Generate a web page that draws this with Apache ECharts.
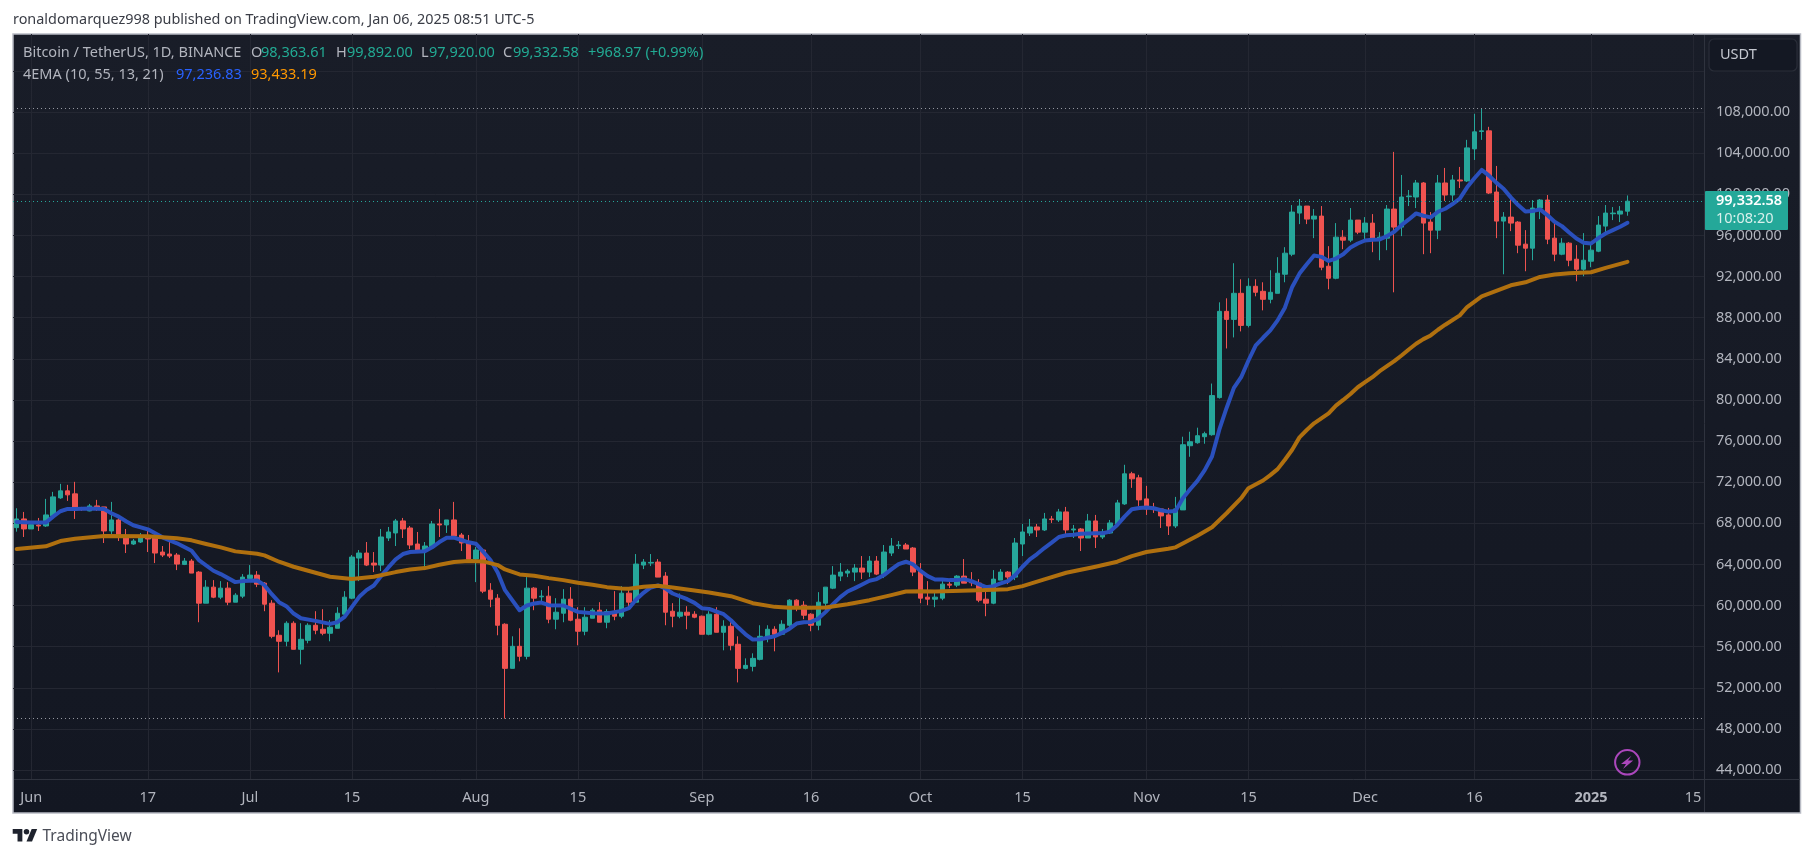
<!DOCTYPE html>
<html><head><meta charset="utf-8">
<style>html,body{margin:0;padding:0;background:#fff}#c{width:1814px;height:858px}</style>
<script src="https://cdn.jsdelivr.net/npm/echarts@6/dist/echarts.min.js"></script>
</head><body><div id="c"></div>
<script>
// One category per calendar day, first candle 2024-05-30, axis runs on to 2025-01-16
const firstDay = Date.UTC(2024, 4, 30);
const dayCount = 232;
const categories = [];
for (let i = 0; i < dayCount; i++) categories.push(new Date(firstDay + i * 86400000).toISOString().slice(0, 10));

const tickDates = ['2024-06-01','2024-06-17','2024-07-01','2024-07-15','2024-08-01','2024-08-15','2024-09-01','2024-09-16','2024-10-01','2024-10-15','2024-11-01','2024-11-15','2024-12-01','2024-12-16','2025-01-01','2025-01-15'];
const tickLabels = ['Jun','17','Jul','15','Aug','15','Sep','16','Oct','15','Nov','15','Dec','16','2025','15'];

const opens = [67578,68423,67448,67838,67740,68716,70472,71155,70862,69399,
69204,69691,69594,67253,68326,66765,65984,66180,66667,66570,
65204,65009,64911,64000,64326,63253,60228,61789,60814,61692,
60326,60911,62635,62960,62180,60228,57106,56521,58277,55741,
56618,58082,57692,57302,57789,59156,60716,64618,65106,64131,
63936,66570,67058,68228,67545,65984,65301,65692,67936,67838,
68326,66862,66179,64521,65399,61497,60716,58179,53887,56033,
55058,61692,60847,60911,58667,59253,60618,58667,57497,58765,
59545,58375,59415,58960,61204,60326,63936,64131,64229,62862,
59447,58960,59350,59155,58960,57204,59155,57399,57985,56229,
53887,54082,54765,56911,57692,57204,58082,60521,60033,59155,
58082,60228,61692,62862,63155,63252,63643,63252,64326,63057,
65106,65822,65887,65594,63350,60814,60618,60715,62082,61984,
62862,62277,62179,60618,60228,62472,63252,62764,65984,67057,
67642,67350,68423,68325,69106,67350,67447,66569,68228,66667,
67057,67935,69886,72813,72423,70374,69496,69399,68813,67740,
69301,75545,75838,76423,76618,80228,88618,87837,90374,87252,
91057,90569,89789,90374,92228,94179,98179,98862,97593,97886,
93008,91837,95837,95545,97496,96325,97203,95740,95740,98569,
96813,99772,99740,101106,97301,96520,101106,99935,101398,101301,
104423,106114,106179,100227,97398,97788,97301,95155,94764,98666,
99447,95740,94179,95252,93691,92715,93496,94471,96910,98114,
98081,98363.61];

const closes = [68423,67448,67870,67740,68814,70570,71155,70765,69302,69334,
69691,69496,67253,68326,66667,65984,66277,66602,66472,65106,
64911,64813,64033,64326,63155,60228,61789,60814,61692,60326,
61009,62765,62960,62082,60131,57008,56521,58277,55741,56716,
58082,57594,57302,57887,59253,60814,64716,65106,63936,63936,
66667,67155,68228,67448,65887,65301,65789,67936,67838,68326,
66765,66082,64521,65399,61399,60618,58082,53887,56033,55058,
61692,60716,60911,58667,59350,60618,58570,57497,58862,59545,
58375,59415,58960,61204,60326,64033,64229,64196,62765,59350,
58960,59350,59058,58862,57204,59155,57399,57985,56131,53887,
54179,54862,57008,57692,57204,58179,60521,59935,59058,58082,
60326,61789,62960,63252,63350,63643,63252,64326,63057,65204,
65789,65887,65497,63252,60716,60618,60814,62082,61984,62862,
62179,62212,60521,60228,62569,63252,62764,66082,67155,67642,
67350,68423,68358,69106,67350,67447,66569,68228,66667,67155,
68033,69984,72813,72326,70277,69399,69334,68716,67740,69399,
75643,75935,76521,76716,80423,88618,87837,90374,87252,91057,
90472,89789,90472,92325,94276,98276,98862,97593,97886,92910,
91837,95837,95545,97496,96325,97203,95740,95837,98569,96813,
99740,99837,101106,97203,96520,101106,99935,101398,101301,104520,
106081,106179,100130,97398,97788,97203,95057,94764,98666,99447,
95642,94179,95252,93593,92715,93593,94569,97008,98179,98179,
98374,99332.58];

const lows = [67188,66667,67448,67253,67643,68619,70375,70179,68423,69204,
69171,69204,66082,66960,66277,65106,65887,66082,65204,64131,
64716,64619,63448,63935,63155,58375,60228,60716,60618,60033,
60326,60716,62472,61789,59448,56814,53497,56033,55741,54277,
56326,57204,57106,56521,57789,59156,60618,62375,63838,63253,
63350,66277,65789,66570,65497,65106,63448,65692,66667,67058,
66472,65301,64521,62277,61204,59838,57106,49000,53887,54570,
54765,59546,60228,58277,57692,58375,58472,56131,57106,58765,
58375,57789,58570,58765,59740,60326,63545,63838,62765,58082,
57887,58765,57692,58765,57204,57106,57399,55643,55643,52521,
53789,53594,54667,56423,55545,57204,57692,59447,58667,57497,
57594,59155,61594,62375,62765,62375,62570,62765,62960,62668,
64814,65497,65497,62862,60228,60033,59838,60520,61691,61789,
62179,61887,60325,58960,60130,62472,62082,62472,64813,66765,
66667,67252,68033,68130,66862,66569,65301,66569,65594,66472,
66959,67643,69789,71448,69691,68813,69008,67545,66862,67545,
69301,74472,75740,75740,76521,80130,85008,86082,86667,87057,
90082,88716,89398,90374,91447,93984,97106,97106,95740,92618,
90764,91739,94667,95350,96130,95642,94374,93593,94569,90471,
95935,98862,98667,94179,94276,95642,99349,99349,100618,101203,
103349,105300,100032,95740,92227,96423,94276,92520,93593,97593,
95155,93496,94081,93008,91545,92032,92910,94374,96130,97496,
97301,97920];

const highs = [69464,69106,67935,68521,70375,71057,71838,71740,72033,69594,
69887,70277,69594,70082,68521,67448,66472,67058,67350,66862,
65789,66472,65106,64619,64521,63350,62472,62472,62375,62277,
61204,63057,63936,63350,62277,60521,57594,58472,58472,58277,
58277,59448,59643,58570,59838,61399,64911,65399,66180,65204,
67448,67643,68423,68521,67740,67155,66179,68228,69399,68326,
70082,67058,66862,65692,65529,62180,61106,58277,57008,57789,
62765,61789,61497,61887,60716,61594,61789,59838,59838,59740,
60326,59643,61399,61887,61497,65009,64521,65009,64521,63252,
60228,61171,59935,59447,59025,59447,59838,58570,58375,57008,
54862,55350,58082,58082,57985,58570,60618,60618,60423,59252,
61301,61789,63838,64131,63545,64033,64814,64814,64814,65887,
66570,66277,66082,65692,64131,62375,61497,62472,62374,62959,
64521,63252,62569,61399,63447,63545,63350,66569,67935,68423,
67935,69008,68716,69399,69594,67838,67545,68911,68813,67447,
68325,70277,73691,73008,72716,71643,69984,69399,69496,70569,
76423,76911,77301,76911,81594,89496,89886,93301,91740,91837,
91740,91447,92618,93886,94862,98959,99544,98862,98569,98862,
94959,97203,96520,98667,97496,97788,98081,96325,98959,104130,
101886,100423,101398,101203,98276,101886,102569,101886,102666,105300,
107837,108353,106569,102764,98276,99544,97398,96520,99447,99544,
99935,97496,95740,95349,95057,96227,95154,97886,98959,98764,
98862,99892];

// EMA readings: [category index, value]
const ema10Points = [[0,68131],[2,68066],[4,68066],[5,68651],[6,69171],[7,69399],[8,69399],[10,69431],[12,69399],[13,68976],[14,68651],[15,68196],[16,67806],[18,67415],[20,66635],[22,66050],[24,65334],[25,64423],[27,63383],[28,63058],[30,62277],[31,62375],[33,62440],[34,61984],[35,61106],[36,60326],[37,59935],[38,59220],[39,58765],[41,58505],[43,58212],[44,58375],[45,58895],[46,59870],[47,60846],[48,61497],[49,61952],[50,62862],[51,63708],[52,64489],[53,65009],[54,65204],[56,65269],[57,65659],[58,66179],[59,66602],[60,66602],[61,66375],[62,66147],[63,66017],[64,65236],[65,64423],[66,63220],[67,61497],[69,59545],[70,60000],[71,60196],[72,60293],[73,60033],[75,60000],[77,59383],[79,59253],[81,59220],[83,59480],[84,59740],[85,60586],[86,61237],[87,61757],[88,61952],[89,61659],[90,61171],[92,60618],[93,60261],[94,59740],[95,59675],[97,59155],[98,58570],[99,57854],[100,57204],[101,56684],[102,56716],[104,57008],[105,57334],[106,57724],[107,58244],[108,58375],[109,58407],[110,58732],[111,59383],[112,60131],[113,60814],[114,61366],[115,61692],[116,62049],[117,62407],[118,62570],[119,62960],[120,63513],[121,64033],[122,64261],[123,64001],[124,63383],[125,62862],[126,62537],[127,62538],[128,62472],[129,62472],[130,62570],[131,62374],[132,62082],[133,61789],[134,61887],[135,62147],[136,62374],[137,62960],[138,63773],[139,64488],[140,65008],[141,65594],[142,66114],[143,66667],[144,66830],[145,66895],[146,66992],[148,67025],[149,67025],[150,67187],[151,67838],[152,68651],[153,69366],[154,69496],[155,69529],[156,69464],[157,69269],[158,69138],[159,69204],[160,70439],[161,71317],[162,72130],[163,73171],[164,74504],[165,77106],[166,79220],[167,81171],[168,82211],[169,83837],[170,85301],[171,86049],[172,86764],[173,87740],[174,88976],[175,90992],[176,92292],[177,93203],[178,94049],[179,93919],[180,93528],[181,93756],[182,94179],[183,94829],[184,95219],[185,95512],[186,95577],[187,95610],[188,95935],[189,96357],[190,97008],[191,97561],[192,98146],[193,97918],[194,97756],[195,98309],[196,98602],[197,99057],[198,99577],[199,100683],[200,101561],[201,102374],[202,101821],[203,101138],[204,100553],[205,99707],[206,98959],[207,98341],[208,98374],[209,98537],[210,97984],[211,97333],[212,96910],[213,96293],[214,95707],[215,95284],[216,95219],[217,95740],[218,96195],[219,96520],[220,96846],[221,97236.83]];

const ema55Points = [[0,65497],[4,65757],[6,66277],[8,66505],[12,66765],[18,66732],[22,66537],[24,66342],[26,65984],[28,65659],[30,65269],[33,65041],[34,64879],[36,64261],[38,63773],[40,63383],[43,62797],[46,62570],[49,62797],[52,63253],[54,63513],[56,63643],[58,63968],[60,64229],[62,64326],[64,64293],[66,63936],[67,63513],[69,63025],[71,62895],[73,62667],[75,62472],[77,62212],[79,62017],[81,61789],[83,61659],[84,61627],[86,61822],[88,61919],[90,61757],[93,61464],[95,61269],[98,60911],[101,60228],[104,59870],[106,59773],[109,59773],[111,59805],[114,60131],[117,60521],[120,61009],[122,61366],[124,61399],[126,61366],[132,61496],[136,61594],[138,61887],[141,62537],[144,63187],[148,63773],[151,64261],[153,64813],[155,65203],[158,65529],[159,65659],[162,66797],[164,67610],[166,68976],[168,70439],[169,71415],[171,72163],[172,72683],[173,73269],[174,74179],[175,75150],[176,76358],[177,77073],[178,77724],[179,78212],[180,78699],[181,79447],[182,80000],[183,80585],[184,81236],[185,81724],[186,82212],[187,82797],[188,83285],[189,83772],[190,84325],[191,84911],[192,85464],[193,85919],[194,86277],[195,86829],[196,87317],[198,88228],[199,89040],[201,90081],[203,90601],[205,91154],[207,91447],[209,91967],[211,92195],[213,92325],[216,92423],[218,92845],[221,93433.19]];

const allTimeHigh = 108353, rangeLow = 49000, lastPrice = 99332.58;

const FONT = '"Noto Sans", sans-serif';
const candleData = opens.map((o, i) => [o, closes[i], lows[i], highs[i]]);
const isTick = (i, v) => tickDates.indexOf(v) >= 0;
const txt = (x, y, text, fill, font) => ({
  type: 'text', x, y, z: 60, silent: true,
  style: {text, fill, font: font || ('14.5px ' + FONT), textVerticalAlign: 'middle', textBaseline: 'middle'}
});

const chart = echarts.init(document.getElementById('c'), null, {renderer: 'canvas'});
chart.setOption({
  animation: false,
  backgroundColor: '#ffffff',
  tooltip: {show: false},
  grid: [
    {left: 13, width: 1691, top: 71, height: 699},
    {left: 13, width: 1691, top: 34, height: 745}
  ],
  xAxis: [
    {gridIndex: 0, type: 'category', data: categories, boundaryGap: true, show: false},
    {gridIndex: 1, type: 'category', data: categories, boundaryGap: true,
      axisLine: {show: false}, axisTick: {show: false},
      splitLine: {show: true, alignWithLabel: true, interval: isTick, lineStyle: {color: '#242732', width: 1}},
      axisLabel: {interval: isTick, margin: 11, color: '#b2b5be', fontFamily: FONT, fontSize: 14.5, hideOverlap: false,
        formatter: v => { const l = tickLabels[tickDates.indexOf(v)]; return l === '2025' ? '{b|2025}' : l; },
        rich: {b: {fontWeight: 'bold', color: '#b2b5be', fontFamily: FONT, fontSize: 14.5}}}}
  ],
  yAxis: [
    {gridIndex: 0, type: 'value', position: 'right', min: 44000, max: 112000, interval: 4000,
      axisLine: {show: false}, axisTick: {show: false},
      splitLine: {show: true, lineStyle: {color: '#242732', width: 1}},
      axisLabel: {margin: 12, color: '#b2b5be', fontFamily: FONT, fontSize: 14.5,
        formatter: v => v === 112000 ? '' : v.toLocaleString('en-US', {minimumFractionDigits: 2})}},
    {gridIndex: 1, type: 'value', show: false, min: 0, max: 1}
  ],
  series: [
    {type: 'candlestick', name: 'BTCUSDT', xAxisIndex: 0, yAxisIndex: 0, data: candleData, barWidth: 5, z: 3,
      itemStyle: {color: '#26a69a', color0: '#ef5350', borderColor: '#26a69a', borderColor0: '#ef5350', borderWidth: 1},
      markLine: {silent: true, symbol: 'none', label: {show: false}, animation: false,
        data: [
          {yAxis: allTimeHigh, lineStyle: {color: '#9598a1', type: [1, 3], width: 1}},
          {yAxis: rangeLow, lineStyle: {color: '#9598a1', type: [1, 3], width: 1}},
          {yAxis: lastPrice, lineStyle: {color: '#26a69a', type: [1, 3], width: 1}}
        ]}},
    {type: 'line', name: 'EMA 10', xAxisIndex: 0, yAxisIndex: 0, data: ema10Points, showSymbol: false, symbol: 'none', z: 4,
      lineStyle: {color: '#2a50bd', width: 4, cap: 'round', join: 'round'}},
    {type: 'line', name: 'EMA 55', xAxisIndex: 0, yAxisIndex: 0, data: ema55Points, showSymbol: false, symbol: 'none', z: 4,
      lineStyle: {color: '#b0700f', width: 4, cap: 'round', join: 'round'}}
  ],
  graphic: {elements: [
    {type: 'rect', z: -10, silent: true, shape: {x: 13, y: 34, width: 1787.5, height: 779},
      style: {fill: new echarts.graphic.LinearGradient(0, 0, 0, 1, [{offset: 0, color: '#191d28'}, {offset: 1, color: '#131722'}]), stroke: '#b8bbc4', lineWidth: 1.5}},
    {type: 'line', z: 50, silent: true, shape: {x1: 1704.5, y1: 35, x2: 1704.5, y2: 812}, style: {stroke: '#2f333e', lineWidth: 1}},
    {type: 'line', z: 50, silent: true, shape: {x1: 14, y1: 779.5, x2: 1800, y2: 779.5}, style: {stroke: '#2f333e', lineWidth: 1}},
    txt(13, 20, 'ronaldomarquez998 published on TradingView.com, Jan 06, 2025 08:51 UTC-5', '#3a3d46', '14.4px ' + FONT),
    txt(23, 53, 'Bitcoin / TetherUS, 1D, BINANCE', '#b2b5be'),
    txt(251, 53, 'O', '#b2b5be'), txt(261, 53, '98,363.61', '#22ab94'),
    txt(336, 53, 'H', '#b2b5be'), txt(347, 53, '99,892.00', '#22ab94'),
    txt(421, 53, 'L', '#b2b5be'), txt(429, 53, '97,920.00', '#22ab94'),
    txt(503, 53, 'C', '#b2b5be'), txt(513, 53, '99,332.58', '#22ab94'),
    txt(588, 53, '+968.97 (+0.99%)', '#22ab94'),
    txt(23, 75, '4EMA (10, 55, 13, 21)', '#b2b5be'),
    txt(176, 75, '97,236.83', '#2962ff'),
    txt(251, 75, '93,433.19', '#ff9800'),
    {type: 'rect', z: 55, silent: true, shape: {x: 1709, y: 39, width: 88, height: 32, r: 5}, style: {fill: '#141823', stroke: '#2a2e39', lineWidth: 1.2}},
    txt(1720, 55, 'USDT', '#c4c7cf'),
    {type: 'rect', z: 58, silent: true, shape: {x: 1705, y: 191, width: 83, height: 39, r: 1}, style: {fill: '#24a899'}},
    txt(1716, 201, '99,332.58', '#ffffff', '600 14.5px ' + FONT),
    txt(1716, 219, '10:08:20', '#d8f0ec'),
    {type: 'circle', z: 60, silent: true, shape: {cx: 1627.3, cy: 762.3, r: 12.2}, style: {fill: 'none', stroke: '#ab47bc', lineWidth: 2}},
    {type: 'polygon', z: 60, silent: true, shape: {points: [[1631.5, 755.8], [1621, 764], [1626, 764], [1623, 769], [1633.2, 760.6], [1628, 760.6]]}, style: {fill: '#ab47bc'}},
    {type: 'group', z: 60, x: 12.7, y: 826.2, scaleX: 0.69, scaleY: 0.69, silent: true, children: [
      {type: 'polygon', silent: true, shape: {points: [[14, 22], [7, 22], [7, 11], [0, 11], [0, 4], [14, 4]]}, style: {fill: '#1e222d'}},
      {type: 'polygon', silent: true, shape: {points: [[28, 22], [20, 22], [27.5, 4], [35.5, 4]]}, style: {fill: '#1e222d'}},
      {type: 'circle', silent: true, shape: {cx: 20, cy: 8, r: 4}, style: {fill: '#1e222d'}}
    ]},
    txt(42.5, 836.5, 'TradingView', '#4a4d57', '15.5px ' + FONT)
  ]}
});
</script></body></html>
